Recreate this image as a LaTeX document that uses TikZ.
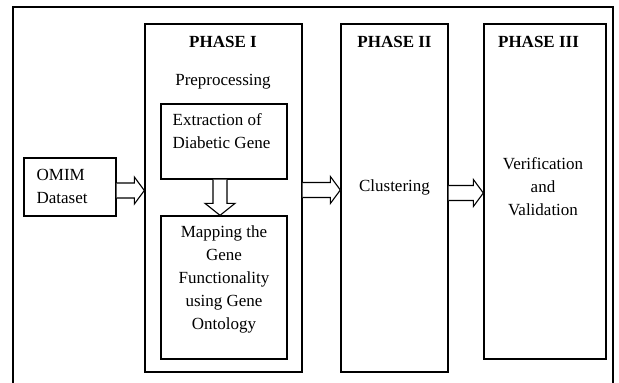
\documentclass[tikz,border=0pt]{standalone}
\usepackage{fontspec}
\setmainfont{Liberation Serif}
\usetikzlibrary{calc}

% horizontal block arrow: #1 tail point, #2 tip point (same height)
\newcommand\blockright[2]{%
  \draw[blk] let \p1=(#1), \p2=(#2) in
    (\x1,\y1+7.5) -- (\x2-10,\y1+7.5) -- (\x2-10,\y1+13.5) -- (\x2,\y1)
    -- (\x2-10,\y1-13.5) -- (\x2-10,\y1-7.5) -- (\x1,\y1-7.5);}
% vertical block arrow pointing down: #1 tail point, #2 tip point
\newcommand\blockdown[2]{%
  \draw[blk] let \p1=(#1), \p2=(#2) in
    (\x1-7,\y1) -- (\x1-7,\y2+12) -- (\x1-15,\y2+12) -- (\x1,\y2)
    -- (\x1+15,\y2+12) -- (\x1+7,\y2+12) -- (\x1+7,\y1);}

\begin{document}
\begin{tikzpicture}[x=1pt,y=-1pt,line width=1.3pt,
  box/.style={draw,rectangle,inner sep=0pt},
  txt/.style={font=\fontsize{17}{23}\selectfont,inner sep=0pt,align=center},
  title/.style={font=\fontsize{17}{23}\selectfont\bfseries,inner sep=0pt},
  blk/.style={draw,fill=white,line width=1.1pt,line join=miter}]

\useasboundingbox (0,0) rectangle (619,383);

% outer frame, open at the bottom
\draw (13,383) -- (13,7) -- (613,7) -- (613,383);

% boxes
\node[box,minimum width=92,minimum height=58]   (omim) at (70,187) {};
\node[box,minimum width=157,minimum height=348] (p1)   at (223.5,198) {};
\node[box,minimum width=126,minimum height=75]  (ext)  at (224,141.5) {};
\node[box,minimum width=126,minimum height=143] (map)  at (224,287.5) {};
\node[box,minimum width=107,minimum height=348] (p2)   at (394.5,198) {};
\node[box,minimum width=122,minimum height=335] (p3)   at (545,191.5) {};

% texts
\node[txt,align=left,anchor=west] (omimtxt) at (36,186) {OMIM\\Dataset};
\node[title] (t1) at (223,42) {PHASE I};
\node[txt] (pre) at (223,82) {Preprocessing};
\node[txt,align=left,anchor=west] (exttxt) at (172,131) {Extraction of\\Diabetic Gene};
\node[txt] (maptxt) at (224,279) {Mapping the\\Gene\\Functionality\\using Gene\\Ontology};
\node[title] (t2) at (394.5,42) {PHASE II};
\node[txt] (clu) at (394.5,187) {Clustering};
\node[title] (t3) at (538.5,42) {PHASE III};
\node[txt] (ver) at (543,187) {Verification\\and\\Validation};

% arrow heights
\coordinate (r1) at (0,190.5);
\coordinate (r2) at (0,190);
\coordinate (r3) at (0,193);
\coordinate (c1) at (220,0);

% block arrows
\blockright{omim.east |- r1}{p1.west |- r1}
\blockright{p1.east |- r2}{p2.west |- r2}
\blockright{p2.east |- r3}{p3.west |- r3}
\blockdown{ext.south -| c1}{map.north -| c1}
\end{tikzpicture}
\end{document}
